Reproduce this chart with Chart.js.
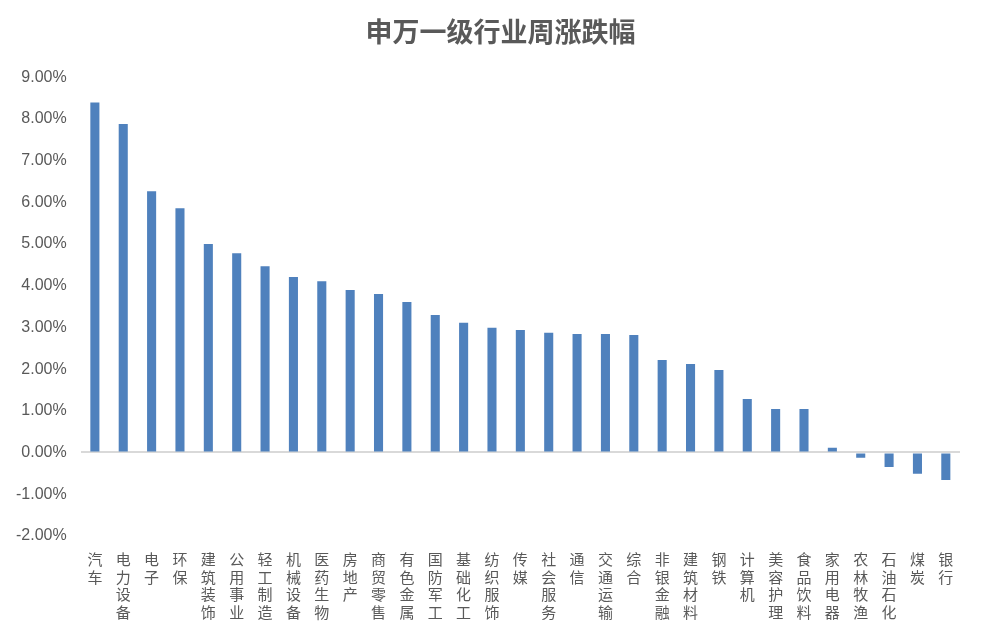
<!DOCTYPE html>
<html lang="zh">
<head>
  <meta charset="UTF-8">
  <title>申万一级行业周涨跌幅</title>
  <script src="https://cdn.jsdelivr.net/npm/chart.js"></script>
  <style>
    body { margin: 0; background: #fff; }
    #chart { display: block; }
  </style>
</head>
<body>
  <canvas id="chart" width="999" height="633"></canvas>
  <script>
    // industries, sorted by weekly change
    var industries = ['汽车', '电力设备', '电子', '环保', '建筑装饰', '公用事业', '轻工制造', '机械设备',
      '医药生物', '房地产', '商贸零售', '有色金属', '国防军工', '基础化工', '纺织服饰', '传媒',
      '社会服务', '通信', '交通运输', '综合', '非银金融', '建筑材料', '钢铁', '计算机',
      '美容护理', '食品饮料', '家用电器', '农林牧渔', '石油石化', '煤炭', '银行'];
    // weekly change, %
    var changes = [8.40, 7.88, 6.27, 5.86, 5.00, 4.78, 4.47, 4.21,
      4.11, 3.90, 3.80, 3.61, 3.30, 3.11, 2.99, 2.94,
      2.87, 2.84, 2.84, 2.82, 2.22, 2.12, 1.98, 1.28,
      1.04, 1.04, 0.11, -0.13, -0.35, -0.51, -0.66];
    var yMin = -2, yMax = 9;

    // vertical labels: one character per line
    var labels = industries.map(function (s) { return s.split(''); });

    var textColor = '#595959';
    var ctx = document.getElementById('chart').getContext('2d');
    new Chart(ctx, {
      type: 'bar',
      data: {
        labels: labels,
        datasets: [{
          data: changes,
          backgroundColor: '#4f81bd',
          barPercentage: 0.32,
          categoryPercentage: 1.0
        }]
      },
      options: {
        responsive: false,
        animation: false,
        layout: { padding: { left: 2, right: 0, top: 14, bottom: 5 } },
        plugins: {
          legend: { display: false },
          tooltip: { enabled: false },
          title: {
            display: true,
            text: '申万一级行业周涨跌幅',
            color: textColor,
            font: { family: '"Noto Sans CJK SC", sans-serif', size: 27, weight: 'bold' },
            padding: { top: 2, bottom: 29 }
          }
        },
        scales: {
          x: {
            grid: { display: false },
            border: { display: false },
            ticks: {
              color: textColor,
              maxRotation: 0,
              minRotation: 0,
              autoSkip: false,
              padding: 7,
              font: { family: '"Noto Sans CJK SC", sans-serif', size: 15, lineHeight: 1.17 }
            }
          },
          y: {
            min: yMin,
            max: yMax,
            border: { display: false },
            grid: {
              drawTicks: false,
              color: function (c) { return c.tick && c.tick.value === 0 ? '#d9d9d9' : 'rgba(0,0,0,0)'; },
              lineWidth: function (c) { return c.tick && c.tick.value === 0 ? 2 : 0; }
            },
            ticks: {
              stepSize: 1,
              color: textColor,
              padding: 14,
              font: { family: '"Liberation Sans", sans-serif', size: 16 },
              callback: function (v) { return v.toFixed(2) + '%'; }
            }
          },
          // empty right margin so the title stays centred on the page
          yRight: {
            position: 'right',
            display: true,
            min: yMin,
            max: yMax,
            border: { display: false },
            grid: { display: false },
            ticks: { display: false },
            afterFit: function (s) { s.width = 39; }
          }
        }
      }
    });
  </script>
</body>
</html>
